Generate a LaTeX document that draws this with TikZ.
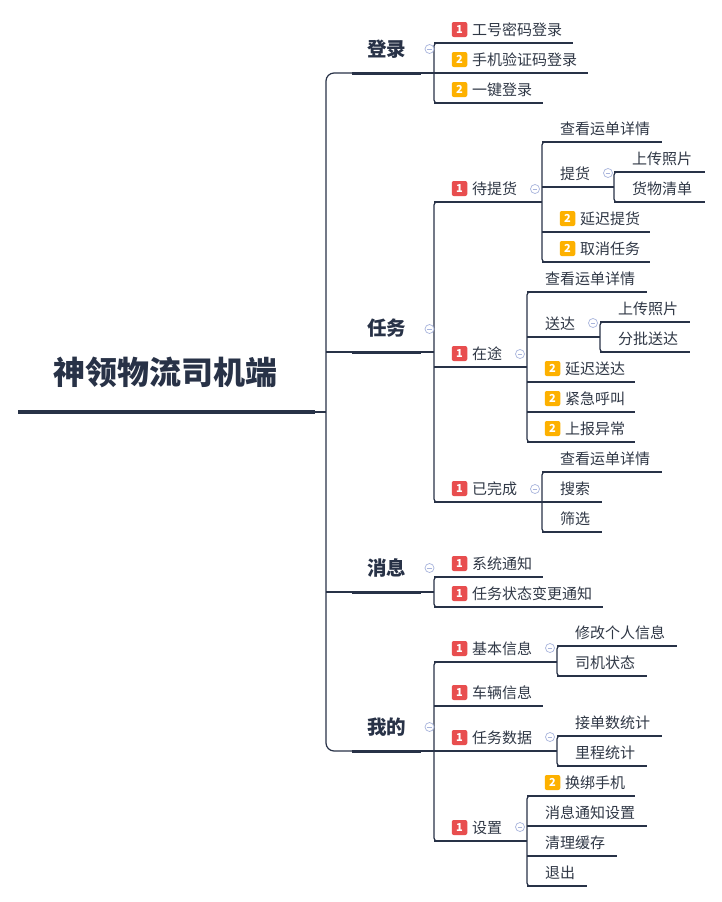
\documentclass[tikz,border=0pt]{standalone}
\usepackage{fontspec}
\setmainfont{Noto Sans CJK SC}
\definecolor{ink}{HTML}{283247}
\definecolor{txtc}{HTML}{303846}
\definecolor{bred}{HTML}{E84E4F}
\definecolor{borange}{HTML}{FDB100}
\definecolor{foldc}{HTML}{A8B4DC}
\newcommand\mmleaf[6]{%
  \coordinate (#1s) at (#2,#4);
  \coordinate (#1e) at (#3,#4);
  \draw[ln] (#1s) -- (#1e);
  \ifcase#5\relax
    \node[txt] (#1) at ([xshift=18pt,yshift=8pt]#1s) {#6};
  \or
    \node[badge,fill=bred] (#1b) at ([xshift=25.5pt,yshift=13.5pt]#1s) {1};
    \node[txt] (#1) at ([xshift=38pt,yshift=8pt]#1s) {#6};
  \or
    \node[badge,fill=borange] (#1b) at ([xshift=25.5pt,yshift=13.5pt]#1s) {2};
    \node[txt] (#1) at ([xshift=38pt,yshift=8pt]#1s) {#6};
  \fi}
\newcommand\mmvert[2]{%
  \draw[ln,rounded corners=3pt] ([xshift=12pt]#1s) -- (#1s) -- (#2s) -- ([xshift=12pt]#2s);}
\newcommand\mmfold[3]{%
  \node[fold] (#1) at (#2,#3) {};
  \draw[foldc,line width=0.8pt] ([xshift=-2.3pt]#1.center) -- ([xshift=2.3pt]#1.center);}
\newcommand\mmhead[3]{%
  \coordinate (#1s) at (352,#2);
  \coordinate (#1e) at (421,#2);
  \draw[hl] (#1s) -- (#1e);
  \node[head] (#1) at (386.5,{#2-16.3}) {#3};}
\begin{document}
\begin{tikzpicture}[x=1pt,y=-1pt,
  ln/.style={draw=ink,line width=1.2pt},
  hl/.style={draw=ink,line width=3pt},
  txt/.style={anchor=base west,inner sep=0pt,text=txtc,font=\fontsize{15}{17}\selectfont},
  head/.style={anchor=base,inner sep=0pt,text=ink,font=\fontsize{19.5}{22}\selectfont\bfseries},
  badge/.style={rounded corners=2pt,minimum width=15.5pt,minimum height=15pt,inner sep=0pt,text=white,font=\fontsize{11}{12}\selectfont\bfseries},
  fold/.style={circle,draw=foldc,fill=white,line width=0.7pt,minimum size=9pt,inner sep=0pt},
]
\fill[white] (0,0) rectangle (721,902);
\useasboundingbox (0,0) rectangle (721,902);

% root
\coordinate (r0) at (18,412);
\coordinate (r1) at (315,412);
\coordinate (hub) at (326,412);
\node[anchor=base,inner sep=0pt,text=ink,font=\fontsize{32}{35}\selectfont\bfseries] (R) at (165.5,384) {神领物流司机端};
\draw[draw=ink,line width=4.5pt] (r0) -- (r1);
\draw[ln] (r1) -- (hub);

% level 1
\mmhead{L1}{73}{登录}
\mmhead{L2}{352}{任务}
\mmhead{L3}{592}{消息}
\mmhead{L4}{751}{我的}
\coordinate (vt) at (326,73);
\coordinate (vb) at (326,751);
\draw[ln,rounded corners=8pt] (L1s) -- (vt) -- (vb) -- (L4s);
\draw[ln] (hub |- L2s) -- (L2s);
\draw[ln] (hub |- L3s) -- (L3s);

% 登录
\mmleaf{a1}{434}{573}{43}{1}{工号密码登录}
\mmleaf{a2}{434}{588}{73}{2}{手机验证码登录}
\mmleaf{a3}{434}{543}{103}{2}{一键登录}
\mmvert{a1}{a3}
\draw[ln] (L1e) -- (a2s);

% 任务
\mmleaf{b1}{434}{542}{202}{1}{待提货}
\mmleaf{b11}{542}{662}{142}{0}{查看运单详情}
\mmleaf{b12}{542}{614}{187}{0}{提货}
\mmleaf{b121}{614}{705}{172}{0}{上传照片}
\mmleaf{b122}{614}{705}{202}{0}{货物清单}
\mmleaf{b13}{542}{650}{232}{2}{延迟提货}
\mmleaf{b14}{542}{650}{262}{2}{取消任务}
\mmvert{b11}{b14}
\mmvert{b121}{b122}

\mmleaf{b2}{434}{527}{367}{1}{在途}
\mmleaf{b21}{527}{647}{292}{0}{查看运单详情}
\mmleaf{b22}{527}{600}{337}{0}{送达}
\mmleaf{b221}{600}{690}{322}{0}{上传照片}
\mmleaf{b222}{600}{690}{352}{0}{分批送达}
\mmleaf{b23}{527}{635}{382}{2}{延迟送达}
\mmleaf{b24}{527}{635}{412}{2}{紧急呼叫}
\mmleaf{b25}{527}{635}{442}{2}{上报异常}
\mmvert{b21}{b25}
\mmvert{b221}{b222}

\mmleaf{b3}{434}{542}{502}{1}{已完成}
\mmleaf{b31}{542}{662}{472}{0}{查看运单详情}
\mmleaf{b32}{542}{602}{502}{0}{搜索}
\mmleaf{b33}{542}{602}{532}{0}{筛选}
\mmvert{b31}{b33}
\mmvert{b1}{b3}
\draw[ln] (L2e) -- (b1s |- L2e);

% 消息
\mmleaf{c1}{434}{543}{577}{1}{系统通知}
\mmleaf{c2}{434}{603}{607}{1}{任务状态变更通知}
\mmvert{c1}{c2}
\draw[ln] (L3e) -- (c1s |- L3e);

% 我的
\mmleaf{d1}{434}{557}{662}{1}{基本信息}
\mmleaf{d11}{557}{677}{646}{0}{修改个人信息}
\mmleaf{d12}{557}{647}{676}{0}{司机状态}
\mmvert{d11}{d12}
\mmleaf{d2}{434}{543}{706}{1}{车辆信息}
\mmleaf{d3}{434}{557}{751}{1}{任务数据}
\mmleaf{d31}{557}{662}{736}{0}{接单数统计}
\mmleaf{d32}{557}{647}{766}{0}{里程统计}
\mmvert{d31}{d32}
\mmleaf{d4}{434}{527}{841}{1}{设置}
\mmleaf{d41}{527}{635}{796}{2}{换绑手机}
\mmleaf{d42}{527}{647}{826}{0}{消息通知设置}
\mmleaf{d43}{527}{617}{856}{0}{清理缓存}
\mmleaf{d44}{527}{587}{886}{0}{退出}
\mmvert{d41}{d44}
\mmvert{d1}{d4}
\draw[ln] (L4e) -- (d1s |- L4e);

% fold markers
\mmfold{f1}{429.5}{49}
\mmfold{f2}{429.5}{329}
\mmfold{f3}{429.5}{568}
\mmfold{f4}{429.5}{727}
\mmfold{fb1}{535}{189}
\mmfold{fb12}{608}{173}
\mmfold{fb2}{520}{354}
\mmfold{fb22}{593}{323}
\mmfold{fb3}{535}{489}
\mmfold{fd1}{550}{648}
\mmfold{fd3}{550}{737}
\mmfold{fd4}{520}{827}
\end{tikzpicture}
\end{document}
